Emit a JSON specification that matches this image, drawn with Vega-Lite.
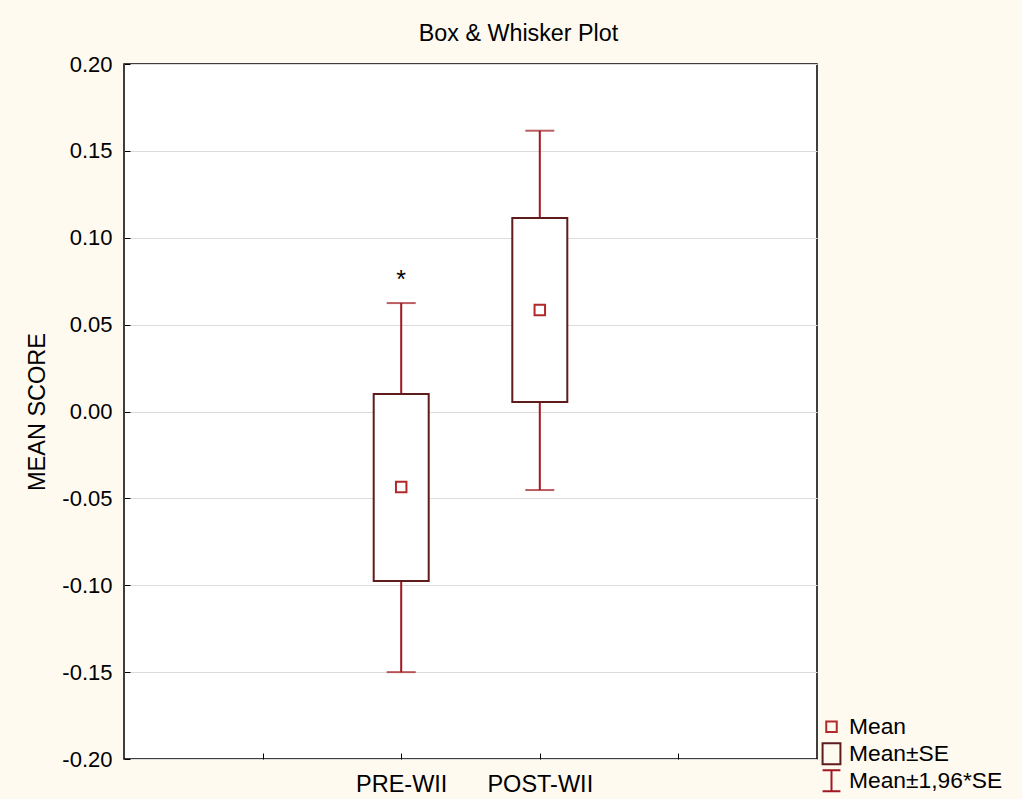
{
  "$schema": "https://vega.github.io/schema/vega-lite/v6.json",
  "width": 693,
  "height": 695,
  "autosize": {"type": "none"},
  "padding": {"left": 124, "top": 64, "right": 205, "bottom": 40},
  "background": "#fffaf0",
  "config": {
    "font": "Liberation Sans",
    "view": {"stroke": "#000000", "strokeWidth": 1.5, "fill": "#ffffff"}
  },
  "title": {
    "text": "Box & Whisker Plot",
    "fontSize": 23.3,
    "fontWeight": "normal",
    "font": "Liberation Sans",
    "color": "#000000",
    "frame": "group",
    "anchor": "middle",
    "dx": 48,
    "offset": 7
  },
  "data": {
    "values": [
      {"group": "PRE-WII", "mean": -0.0435, "se_lo": -0.0976, "se_hi": 0.0101, "ci_lo": -0.150, "ci_hi": 0.0624, "kind": "Mean"},
      {"group": "POST-WII", "mean": 0.0584, "se_lo": 0.0055, "se_hi": 0.1114, "ci_lo": -0.0452, "ci_hi": 0.1616, "kind": "Mean"}
    ]
  },
  "encoding": {
    "x": {
      "field": "group",
      "type": "nominal",
      "scale": {"type": "point", "domain": ["_a", "PRE-WII", "POST-WII", "_b"], "padding": 1},
      "axis": {
        "title": null,
        "labelExpr": "indexof(['PRE-WII','POST-WII'], datum.value) >= 0 ? datum.value : ''",
        "labelAngle": 0,
        "tickSize": -6,
        "labelPadding": 19,
        "domain": false,
        "grid": false,
        "labelFontSize": 23.5,
        "labelColor": "#000000",
        "tickColor": "#000000",
        "labelFont": "Liberation Sans"
      }
    }
  },
  "layer": [
    {
      "mark": {"type": "rule", "color": "#a01820", "strokeWidth": 2},
      "encoding": {
        "y": {
          "field": "ci_lo",
          "type": "quantitative",
          "title": "MEAN SCORE",
          "scale": {"domain": [-0.2, 0.2], "nice": false, "zero": false},
          "axis": {
            "values": [-0.2, -0.15, -0.1, -0.05, 0, 0.05, 0.1, 0.15, 0.2],
            "labelExpr": "datum.value < -0.0001 ? '-' + format(-datum.value, '.2f') : format(abs(datum.value), '.2f')",
            "labelFontSize": 22,
            "labelFont": "Liberation Sans",
            "titleFont": "Liberation Sans",
            "titleFontSize": 23.5,
            "titleFontWeight": "normal",
            "titleColor": "#000000",
            "labelColor": "#000000",
            "tickColor": "#000000",
            "tickSize": -6,
            "labelPadding": 18,
            "titlePadding": 12,
            "domain": false,
            "grid": true,
            "gridColor": "#dcdcdc"
          }
        },
        "y2": {"field": "ci_hi"}
      }
    },
    {
      "mark": {"type": "tick", "color": "#a01820", "size": 29, "thickness": 2},
      "encoding": {"y": {"field": "ci_lo", "type": "quantitative", "title": "MEAN SCORE"}}
    },
    {
      "mark": {"type": "tick", "color": "#a01820", "size": 29, "thickness": 2},
      "encoding": {"y": {"field": "ci_hi", "type": "quantitative", "title": "MEAN SCORE"}}
    },
    {
      "mark": {"type": "bar", "width": 55, "fill": "#ffffff", "stroke": "#5e1c1c", "strokeWidth": 2},
      "encoding": {
        "y": {"field": "se_lo", "type": "quantitative", "title": "MEAN SCORE"},
        "y2": {"field": "se_hi"}
      }
    },
    {
      "mark": {"type": "point", "filled": false, "strokeWidth": 2, "opacity": 1},
      "encoding": {
        "y": {"field": "mean", "type": "quantitative", "title": "MEAN SCORE"},
        "shape": {
          "field": "kind",
          "type": "nominal",
          "scale": {
            "domain": ["Mean", "Mean±SE", "Mean±1,96*SE"],
            "range": ["square", "M-0.85,-1H0.85V1H-0.85Z", "M-0.85,-1H0.85M0,-1V1M-0.85,1H0.85"]
          },
          "legend": {
            "title": null,
            "orient": "none",
            "legendX": 696,
            "legendY": 649.5,
            "labelFontSize": 22.8,
            "labelFont": "Liberation Sans",
            "labelColor": "#000000",
            "labelLimit": 300,
            "labelOffset": 6,
            "symbolStrokeWidth": 2,
            "symbolFillColor": "transparent",
            "rowPadding": 0,
            "clipHeight": 26.5,
            "padding": 0
          }
        },
        "stroke": {
          "field": "kind",
          "type": "nominal",
          "scale": {
            "domain": ["Mean", "Mean±SE", "Mean±1,96*SE"],
            "range": ["#b02a2a", "#5e1c1c", "#a01820"]
          }
        },
        "size": {
          "field": "kind",
          "type": "nominal",
          "scale": {
            "type": "ordinal",
            "domain": ["Mean", "Mean±SE", "Mean±1,96*SE"],
            "range": [110, 441, 441]
          }
        }
      }
    },
    {
      "data": {"values": [{"group": "PRE-WII", "star_y": 0.0712, "label": "*"}]},
      "mark": {"type": "text", "fontSize": 25, "baseline": "alphabetic", "color": "#000000", "font": "Liberation Sans"},
      "encoding": {
        "y": {"field": "star_y", "type": "quantitative", "title": "MEAN SCORE"},
        "text": {"field": "label"}
      }
    }
  ]
}
